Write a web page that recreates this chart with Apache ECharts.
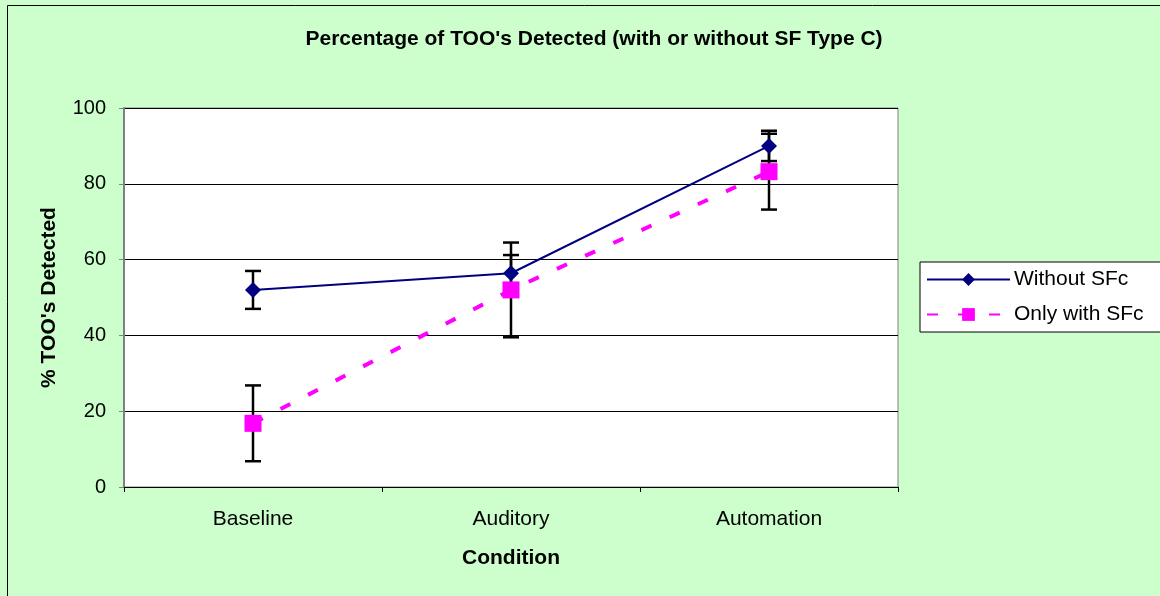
<!DOCTYPE html>
<html><head><meta charset="utf-8">
<script src="https://cdn.jsdelivr.net/npm/echarts@6/dist/echarts.min.js"></script>
<style>html,body{margin:0;padding:0;background:#CCFFCC;}#c{width:1160px;height:596px;}</style>
</head><body><div id="c"></div>
<script>
const categories = ['Baseline', 'Auditory', 'Automation'];
const withoutSFc = [52, 56.4, 90];
const withoutErr = [5, 4.8, 4];
const onlySFc = [16.8, 52, 83.2];
const onlyErr = [10, 12.5, 10];
const yTicks = [0, 20, 40, 60, 80, 100];

function errData(vals, errs) {
  return vals.map((v, i) => [i, v - errs[i], v + errs[i]]);
}
function errRender(params, api) {
  const x = api.value(0);
  const lo = api.coord([x, api.value(1)]);
  const hi = api.coord([x, api.value(2)]);
  const hw = 8;
  const st = { stroke: '#000', lineWidth: 2.5 };
  return { type: 'group', children: [
    { type: 'line', shape: { x1: lo[0], y1: lo[1], x2: hi[0], y2: hi[1] }, style: st },
    { type: 'line', shape: { x1: lo[0]-hw, y1: lo[1], x2: lo[0]+hw, y2: lo[1] }, style: st },
    { type: 'line', shape: { x1: hi[0]-hw, y1: hi[1], x2: hi[0]+hw, y2: hi[1] }, style: st }
  ]};
}

const chart = echarts.init(document.getElementById('c'), null, { renderer: 'canvas' });
const font = 'Arial, "Liberation Sans", sans-serif';
chart.setOption({
  backgroundColor: '#CCFFCC',
  animation: false,
  textStyle: { fontFamily: font },
  title: {
    text: "Percentage of TOO's Detected (with or without SF Type C)",
    left: 589, top: 24, textAlign: 'center',
    textStyle: { fontSize: 21, fontWeight: 'bold', color: '#000', fontFamily: font }
  },
  graphic: [
    { type: 'rect', shape: { x: 7.5, y: 5.5, width: 1160, height: 600 }, style: { fill: null, stroke: '#000', lineWidth: 1 }, z: 100 }
  ],
  legend: {
    left: 920, top: 262, orient: 'vertical',
    itemWidth: 83, itemHeight: 16, itemGap: 14,
    padding: [7, 30, 7, 6],
    backgroundColor: '#fff', borderColor: '#000', borderWidth: 1,
    textStyle: { fontSize: 21, color: '#000', fontFamily: font, padding: [0, 0, 0, -1] },
    data: ['Without SFc', 'Only with SFc']
  },
  grid: { left: 124, right: 262, top: 108, bottom: 109, show: true, backgroundColor: '#fff', borderColor: '#808080', borderWidth: 1 },
  xAxis: {
    type: 'category', data: categories, boundaryGap: true,
    name: 'Condition', nameLocation: 'middle', nameGap: 61,
    nameTextStyle: { fontSize: 21, fontWeight: 'bold', color: '#000', fontFamily: font },
    axisLine: { lineStyle: { color: '#000', width: 1 } },
    axisTick: { show: true, length: 5, lineStyle: { color: '#000' } },
    axisLabel: { fontSize: 21, color: '#000', margin: 22, fontFamily: font }
  },
  yAxis: {
    type: 'value', min: 0, max: 100, interval: 20,
    name: "% TOO's Detected", nameLocation: 'middle', nameGap: 64, nameRotate: 90,
    nameTextStyle: { fontSize: 21, fontWeight: 'bold', color: '#000', fontFamily: font },
    axisLine: { show: true, lineStyle: { color: '#808080', width: 2 } },
    axisTick: { show: true, length: 5, lineStyle: { color: '#808080' } },
    axisLabel: { fontSize: 20, color: '#000', margin: 18, fontFamily: font,
      formatter: v => yTicks.includes(v) ? String(v) : '' },
    splitLine: { show: true, lineStyle: { color: '#000', width: 1 } }
  },
  series: [
    { type: 'custom', name: 'errWithout', renderItem: errRender, data: errData(withoutSFc, withoutErr), encode: { x: 0, y: [1, 2] }, z: 2, silent: true },
    { type: 'custom', name: 'errOnly', renderItem: errRender, data: errData(onlySFc, onlyErr), encode: { x: 0, y: [1, 2] }, z: 2, silent: true },
    { type: 'line', name: 'Only with SFc', data: onlySFc, symbol: 'rect', symbolSize: 17,
      itemStyle: { color: '#FF00FF' }, lineStyle: { color: '#FF00FF', width: 4, type: [11, 20] }, z: 3 },
    { type: 'line', name: 'Without SFc', data: withoutSFc, symbol: 'diamond', symbolSize: [16, 16],
      itemStyle: { color: '#000080' }, lineStyle: { color: '#000080', width: 2 }, z: 4 }
  ]
});
</script></body></html>
